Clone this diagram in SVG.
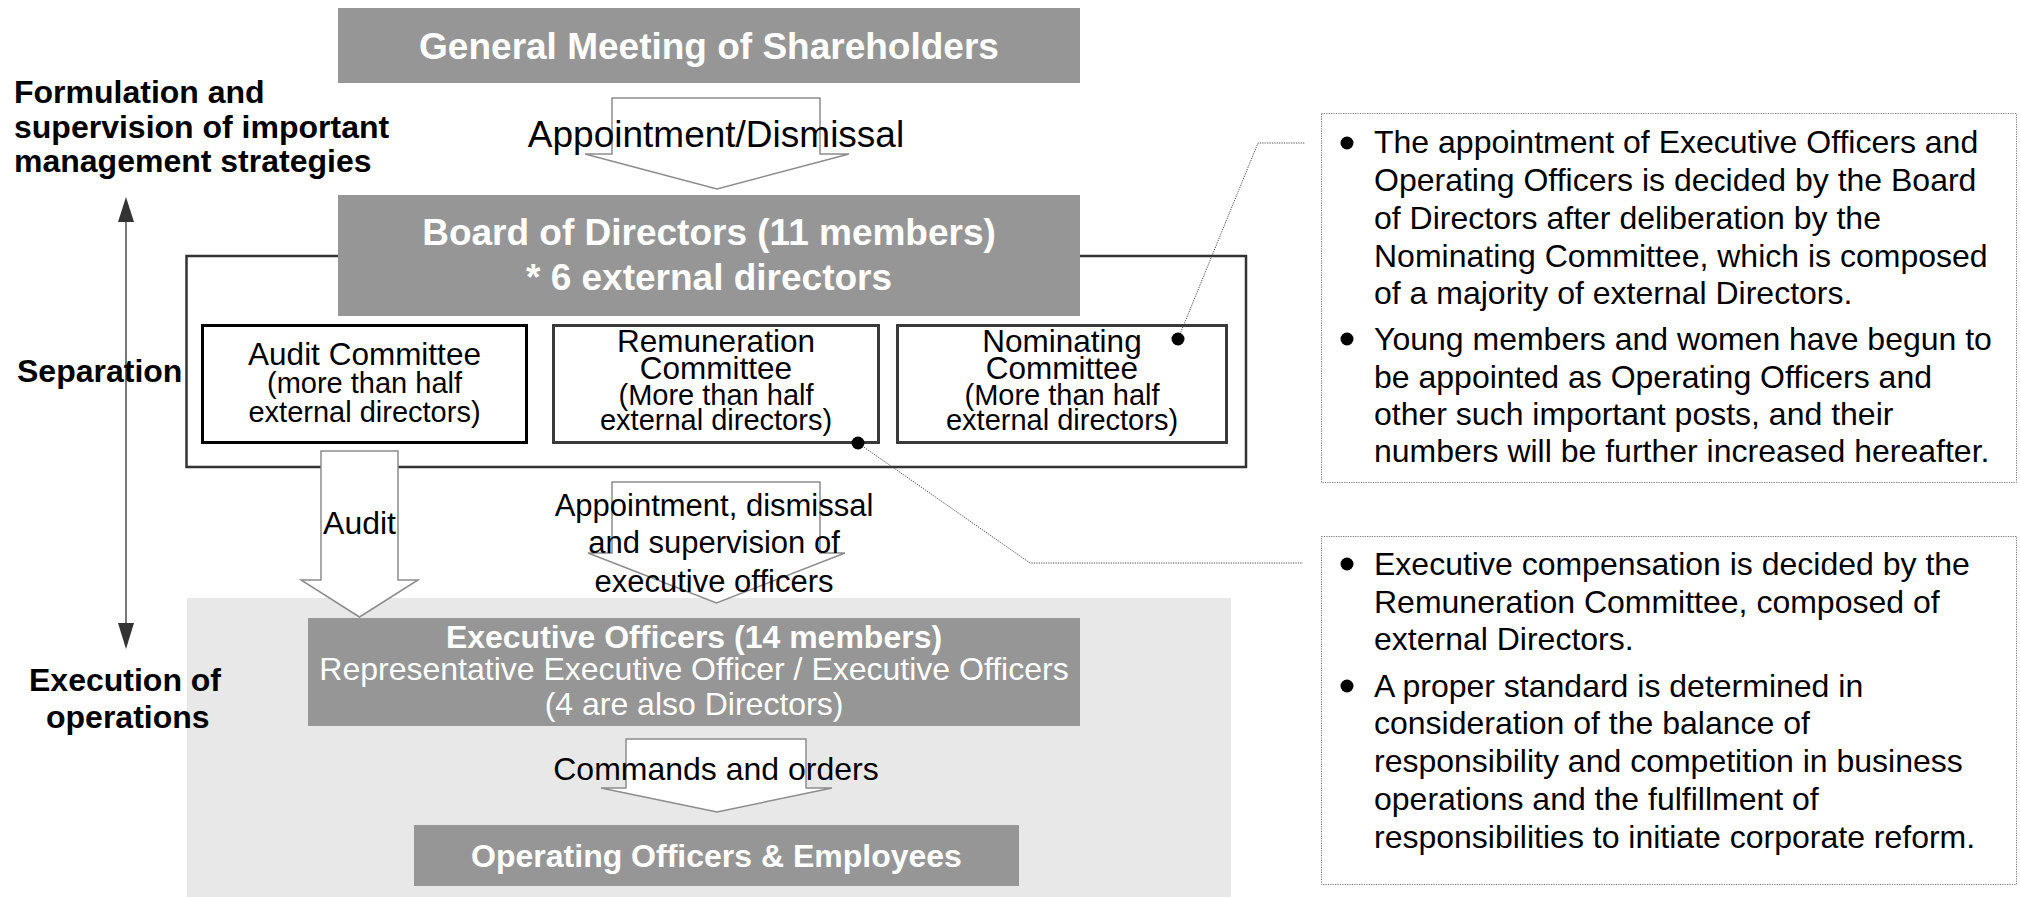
<svg xmlns="http://www.w3.org/2000/svg" width="2020" height="897" viewBox="0 0 2020 897">
<style>
text{font-family:"Liberation Sans",Arial,sans-serif;}
.box{fill:#969696;}
.wt{fill:#fff;font-weight:bold;text-anchor:middle;}
.wr{fill:#fff;text-anchor:middle;}
.lbl{fill:#000;font-weight:bold;font-size:32px;}
.cm{fill:#fff;stroke-width:3;}
.ct{fill:#000;text-anchor:middle;font-size:31.5px;}
.cs{fill:#000;text-anchor:middle;font-size:29px;}
.blk{fill:#fff;stroke:#8c8c8c;stroke-width:1.5;stroke-linejoin:miter;}
.at{fill:#000;text-anchor:middle;}
.lead{fill:none;stroke:#444;stroke-width:1;stroke-dasharray:1.2 1.2;}
.note{fill:#fff;stroke:#777;stroke-width:1;stroke-dasharray:1.2 1.2;}
.nt{fill:#000;font-size:32px;}
.head{fill:#333;}
</style>
<rect width="2020" height="897" fill="#fff"/>

<g id="execution-area">
<rect x="187" y="598" width="1044" height="299" fill="#e8e8e8"/>
</g>

<g id="committee-frame">
<rect x="186.5" y="256" width="1059.5" height="211" fill="none" stroke="#333" stroke-width="2.5"/>
</g>

<g id="general-meeting">
<rect class="box" x="338" y="8" width="742" height="75"/>
<text class="wt" x="709" y="59" font-size="37">General Meeting of Shareholders</text>
</g>

<g id="board">
<rect class="box" x="338" y="195" width="742" height="121"/>
<text class="wt" x="709" y="245" font-size="37">Board of Directors (11 members)</text>
<text class="wt" x="709" y="290" font-size="37">* 6 external directors</text>
</g>

<g id="audit-committee">
<rect class="cm" x="202.5" y="325.5" width="324" height="117" stroke="#000"/>
<text class="ct" x="364.5" y="365">Audit Committee</text>
<text class="cs" x="364.5" y="393">(more than half</text>
<text class="cs" x="364.5" y="422">external directors)</text>
</g>

<g id="remuneration-committee">
<rect class="cm" x="553.5" y="325.5" width="325" height="117" stroke="#3a3a3a"/>
<text class="ct" x="716" y="352">Remuneration</text>
<text class="ct" x="716" y="378.5">Committee</text>
<text class="cs" x="716" y="404.5">(More than half</text>
<text class="cs" x="716" y="429.5">external directors)</text>
</g>

<g id="nominating-committee">
<rect class="cm" x="897.5" y="325.5" width="329" height="117" stroke="#3a3a3a"/>
<text class="ct" x="1062" y="352">Nominating</text>
<text class="ct" x="1062" y="378.5">Committee</text>
<text class="cs" x="1062" y="404.5">(More than half</text>
<text class="cs" x="1062" y="429.5">external directors)</text>
</g>

<g id="connectors">
<polygon class="blk" points="612,98 820,98 820,154 849,154 717,189 585,154 612,154"/>
<text class="at" x="716" y="147" font-size="37">Appointment/Dismissal</text>
<polygon class="blk" points="321,451 398,451 398,580 418,580 359.5,617 301,580 321,580"/>
<text class="at" x="359.5" y="534" font-size="32">Audit</text>
<polygon class="blk" points="612,482 820,482 820,553 845,553 716.5,603 588,553 612,553"/>
<text class="at" x="714" y="516" font-size="31">Appointment, dismissal</text>
<text class="at" x="714" y="553" font-size="31">and supervision of</text>
<text class="at" x="714" y="592" font-size="31">executive officers</text>
<polygon class="blk" points="626,739 806,739 806,788 832,788 717,812 601,788 626,788"/>
<text class="at" x="716" y="780" font-size="32">Commands and orders</text>
<polyline class="lead" points="1178,339 1258,143 1305,143"/>
<circle cx="1178" cy="339" r="6.5" fill="#000"/>
<polyline class="lead" points="858,443 1030,563 1303,563"/>
<circle cx="858" cy="443" r="6.5" fill="#000"/>
<line x1="126" y1="218" x2="126" y2="628" stroke="#555" stroke-width="1.6"/>
<polygon class="head" points="126,197 134,222 118,222"/>
<polygon class="head" points="126,649 134,623 118,623"/>
</g>

<g id="executive-officers">
<rect class="box" x="308" y="618" width="772" height="108"/>
<text class="wt" x="694" y="648" font-size="32">Executive Officers (14 members)</text>
<text class="wr" x="694" y="680" font-size="32">Representative Executive Officer / Executive Officers</text>
<text class="wr" x="694" y="715" font-size="32">(4 are also Directors)</text>
</g>

<g id="operating-officers">
<rect class="box" x="414" y="825" width="605" height="61"/>
<text class="wt" x="716.5" y="867" font-size="32">Operating Officers &amp; Employees</text>
</g>

<g id="note-nominating">
<rect class="note" x="1321.5" y="113.5" width="695" height="369"/>
<circle cx="1347" cy="143" r="6.5" fill="#000"/>
<text class="nt" x="1374" y="153">The appointment of Executive Officers and</text>
<text class="nt" x="1374" y="191">Operating Officers is decided by the Board</text>
<text class="nt" x="1374" y="228.5">of Directors after deliberation by the</text>
<text class="nt" x="1374" y="266.5">Nominating Committee, which is composed</text>
<text class="nt" x="1374" y="304">of a majority of external Directors.</text>
<circle cx="1347" cy="339" r="6.5" fill="#000"/>
<text class="nt" x="1374" y="350">Young members and women have begun to</text>
<text class="nt" x="1374" y="387.5">be appointed as Operating Officers and</text>
<text class="nt" x="1374" y="425">other such important posts, and their</text>
<text class="nt" x="1374" y="462">numbers will be further increased hereafter.</text>
</g>

<g id="note-remuneration">
<rect class="note" x="1321.5" y="536.5" width="695" height="348"/>
<circle cx="1347" cy="564" r="6.5" fill="#000"/>
<text class="nt" x="1374" y="575">Executive compensation is decided by the</text>
<text class="nt" x="1374" y="613">Remuneration Committee, composed of</text>
<text class="nt" x="1374" y="650">external Directors.</text>
<circle cx="1347" cy="686" r="6.5" fill="#000"/>
<text class="nt" x="1374" y="697">A proper standard is determined in</text>
<text class="nt" x="1374" y="734">consideration of the balance of</text>
<text class="nt" x="1374" y="772">responsibility and competition in business</text>
<text class="nt" x="1374" y="810">operations and the fulfillment of</text>
<text class="nt" x="1374" y="848">responsibilities to initiate corporate reform.</text>
</g>

<g id="side-labels">
<text class="lbl" x="14" y="103">Formulation and</text>
<text class="lbl" x="14" y="138">supervision of important</text>
<text class="lbl" x="14" y="172">management strategies</text>
<text class="lbl" x="17" y="382">Separation</text>
<text class="lbl" x="29" y="691">Execution of</text>
<text class="lbl" x="46" y="728">operations</text>
</g>
</svg>
